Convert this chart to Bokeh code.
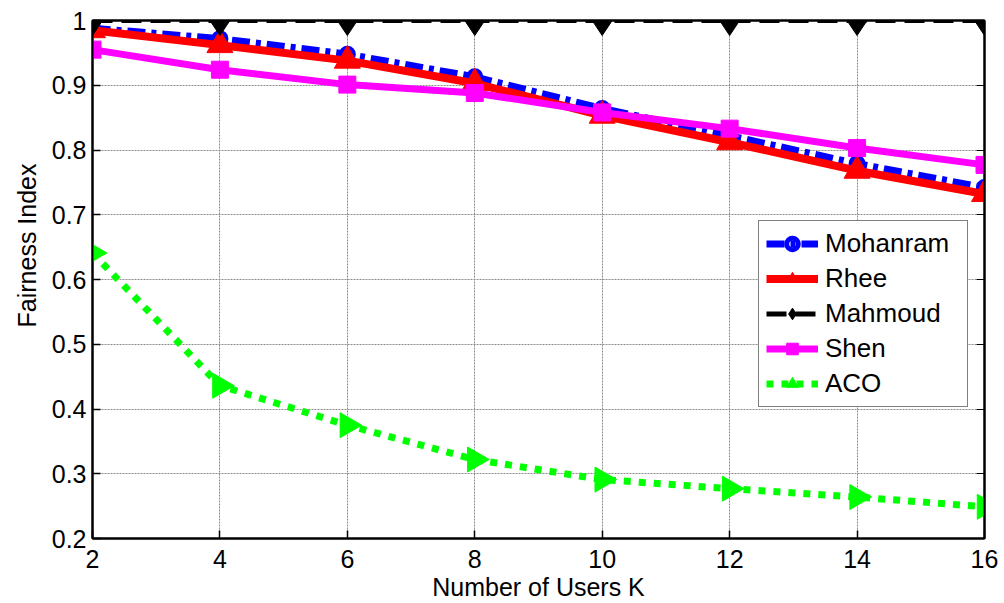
import numpy as np
from bokeh.plotting import figure
from bokeh.models import (Range1d, FixedTicker, NumeralTickFormatter, LinearAxis,
                          Legend, LegendItem, Title)
from bokeh.embed import file_html
from bokeh.resources import INLINE

# ---- data ----
users_k = [2, 4, 6, 8, 10, 12, 14, 16]
mohanram = [0.988, 0.972, 0.948, 0.913, 0.864, 0.822, 0.779, 0.742]
rhee = [0.985, 0.962, 0.938, 0.903, 0.853, 0.812, 0.768, 0.732]
mahmoud = [1.0, 1.0, 1.0, 1.0, 1.0, 1.0, 1.0, 1.0]
shen = [0.955, 0.924, 0.901, 0.888, 0.858, 0.833, 0.803, 0.777]
aco = [0.641, 0.436, 0.375, 0.322, 0.291, 0.277, 0.264, 0.249]
x_ticks = [2, 4, 6, 8, 10, 12, 14, 16]
y_ticks = [0.2, 0.3, 0.4, 0.5, 0.6, 0.7, 0.8, 0.9, 1.0]
series_names = ["Mohanram", "Rhee", "Mahmoud", "Shen", "ACO"]

FONT = "Liberation Sans"
FS = "25px"

p = figure(width=1004, height=603, output_backend="svg", toolbar_location=None,
           x_range=Range1d(2, 16), y_range=Range1d(0.2, 1.0),
           min_border_left=92, min_border_right=20, min_border_top=20,
           min_border_bottom=65)
p.background_fill_color = "white"
p.border_fill_color = "white"
p.outline_line_color = "black"
p.outline_line_width = 2

# axes
for ax in (p.xaxis[0], p.yaxis[0]):
    ax.major_tick_in = 8
    ax.major_tick_out = 0
    ax.minor_tick_in = 0
    ax.minor_tick_out = 0
    ax.axis_line_width = 2
    ax.major_tick_line_width = 1.5
    ax.major_label_text_font = FONT
    ax.major_label_text_font_size = FS
    ax.major_label_text_color = "black"
    ax.axis_label_text_font = FONT
    ax.axis_label_text_font_size = FS
    ax.axis_label_text_font_style = "normal"
    ax.axis_label_text_color = "black"

p.xaxis[0].ticker = FixedTicker(ticks=x_ticks)
p.yaxis[0].ticker = FixedTicker(ticks=y_ticks)
p.yaxis[0].formatter = NumeralTickFormatter(format="0.[0]")
p.xaxis[0].major_label_standoff = 11
p.yaxis[0].major_label_standoff = 6
p.xaxis[0].axis_label = "Number of Users K"
p.xaxis[0].axis_label_standoff = 2

# right & top box axes with inward ticks, no labels
right = LinearAxis(ticker=FixedTicker(ticks=y_ticks), major_label_text_alpha=0,
                   major_label_text_font_size="1px", major_tick_in=8, major_tick_out=0,
                   minor_tick_in=0, minor_tick_out=0, axis_line_width=2)
top = LinearAxis(ticker=FixedTicker(ticks=x_ticks), major_label_text_alpha=0,
                 major_label_text_font_size="1px", major_tick_in=8, major_tick_out=0,
                 minor_tick_in=0, minor_tick_out=0, axis_line_width=2)
p.add_layout(right, "right")
p.add_layout(top, "above")

# grid
p.xgrid.ticker = FixedTicker(ticks=x_ticks)
p.ygrid.ticker = FixedTicker(ticks=y_ticks)
for g in (p.xgrid[0], p.ygrid[0]):
    g.grid_line_color = "#8c8c8c"
    g.grid_line_width = 1
    g.grid_line_dash = "2 1"

# series
l1 = p.line(users_k, mohanram, line_color="#0000ff", line_width=7, line_dash="18 6 5 6")
m1 = p.scatter(users_k, mohanram, marker="circle", size=12, line_color="#0000ff",
               line_width=5, fill_alpha=0)
l2 = p.line(users_k, rhee, line_color="#ff0000", line_width=8)
m2 = p.scatter(users_k, rhee, marker="triangle", size=26, line_color="#ff0000",
               fill_color="#ff0000", line_width=1)
l3 = p.line(users_k, mahmoud, line_color="black", line_width=5, line_dash="20 9")
m3 = p.scatter(users_k, mahmoud, marker="diamond", size=30, line_color="black",
               fill_color="black", line_width=1)
l4 = p.line(users_k, shen, line_color="#ff00ff", line_width=7)
m4 = p.scatter(users_k, shen, marker="square", size=17, line_color="#ff00ff",
               fill_color="#ff00ff", line_width=1)
l5 = p.line(users_k, aco, line_color="#00ff00", line_width=7, line_dash="7 8")
m5 = p.scatter(users_k, aco, marker="triangle", size=25, angle=-np.pi / 2,
               line_color="#00ff00", fill_color="#00ff00", line_width=1)

legend = Legend(items=[
    LegendItem(label=series_names[0], renderers=[l1, m1]),
    LegendItem(label=series_names[1], renderers=[l2, m2]),
    LegendItem(label=series_names[2], renderers=[l3, m3]),
    LegendItem(label=series_names[3], renderers=[l4, m4]),
    LegendItem(label=series_names[4], renderers=[l5, m5]),
], location=(666, 131), orientation="vertical")
legend.label_text_font = FONT
legend.label_text_font_size = "26px"
legend.label_text_color = "black"
legend.glyph_width = 52
legend.glyph_height = 29
legend.label_height = 29
legend.label_width = 135
legend.label_standoff = 7
legend.spacing = 4
legend.padding = 7
legend.margin = 0
legend.border_line_color = "black"
legend.border_line_width = 1.5
legend.background_fill_color = "white"
legend.background_fill_alpha = 1
p.add_layout(legend, "center")

# y-axis title, placed like the original (above the frame centre)
ytitle = Title(text="Fairness Index", align="right", offset=143,
               text_font=FONT, text_font_size=FS, text_font_style="normal",
               text_color="black", standoff=15)
p.add_layout(ytitle, "left")

open("out.html", "w").write(file_html(p, INLINE))
